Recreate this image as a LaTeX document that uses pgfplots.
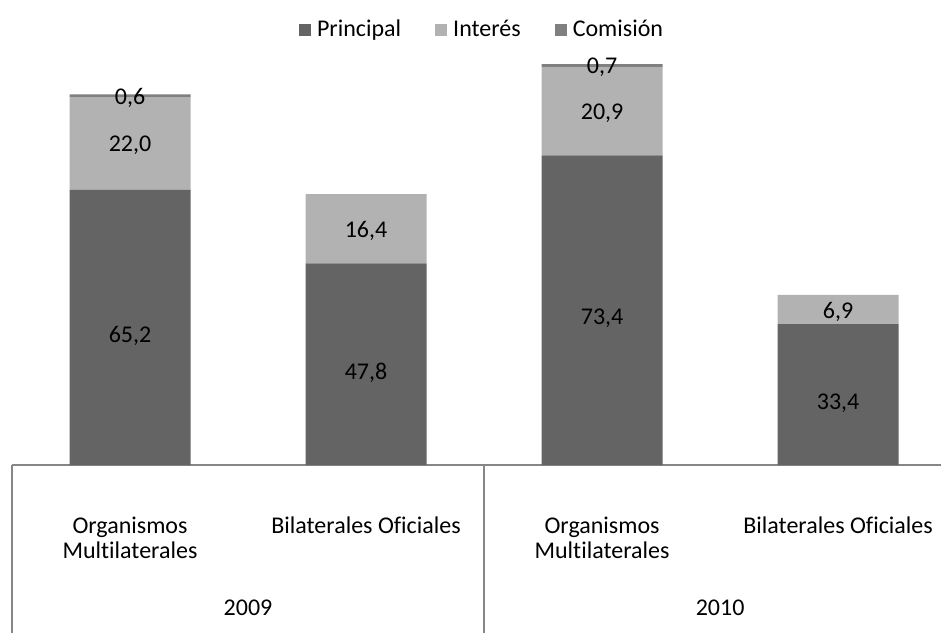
\documentclass[border=0pt]{standalone}
\usepackage{fontspec}
\setmainfont{Carlito}[Ligatures=NoCommon]
\usepackage{pgfplots}
\pgfplotsset{compat=1.18}
\usepackage{pgfplotstable}
\definecolor{cprin}{HTML}{646464}
\definecolor{cint}{HTML}{B2B2B2}
\definecolor{ccom}{HTML}{808080}
\definecolor{cline}{HTML}{868686}
\pgfplotstableread{
x prin int com
0 65.2 22.0 0.6
1 47.8 16.4 0
2 73.4 20.9 0.7
3 33.4 6.9 0
}\data
\pgfplotsset{geom/.style={at={(0,0)}, anchor=south west,
  scale only axis, width=464.5pt, height=211pt,
  xmin=-0.5, xmax=3.436, ymin=0, ymax=100,
  axis lines=none, clip=false, xtick=\empty, ytick=\empty}}
\begin{document}
\fontsize{12pt}{14pt}\selectfont
\begin{tikzpicture}
\path[use as bounding box] (-6pt,-83.5pt) rectangle (464.5pt,232.5pt);
\begin{axis}[geom,
  ybar stacked, bar width=60.5pt,
  legend columns=-1,
  legend style={at={(0.506,1.031)}, anchor=center, draw=none, fill=none,
    /tikz/every even column/.append style={column sep=16pt},
    /tikz/every odd column/.append style={column sep=2pt},
    nodes={inner xsep=1pt}},
  legend image code/.code={\path[#1] (0pt,-3pt) rectangle (6pt,3pt);},
]
\addplot[fill=cprin, draw=none] table[x=x,y=prin]{\data};
\addplot[fill=cint, draw=none] table[x=x,y=int]{\data};
\addplot[fill=ccom, draw=none] table[x=x,y=com]{\data};
\legend{Principal, Interés, Comisión}
\draw[cline, line width=0.6pt] (axis cs:-0.5,0) -- (axis cs:3.436,0);
\draw[cline, line width=0.6pt] (axis cs:-0.5,0) -- (axis cs:-0.5,-41);
\draw[cline, line width=0.6pt] (axis cs:1.5,0) -- (axis cs:1.5,-41);
\node[anchor=base, yshift=-34.25pt] at (axis cs:0,0) {Organismos};
\node[anchor=base, yshift=-46.75pt] at (axis cs:0,0) {Multilaterales};
\node[anchor=base, yshift=-34.25pt] at (axis cs:1,0) {Bilaterales Oficiales};
\node[anchor=base, yshift=-34.25pt] at (axis cs:2,0) {Organismos};
\node[anchor=base, yshift=-46.75pt] at (axis cs:2,0) {Multilaterales};
\node[anchor=base, yshift=-34.25pt] at (axis cs:3,0) {Bilaterales Oficiales};
\node[anchor=base, yshift=-75.25pt] at (axis cs:0.5,0) {2009};
\node[anchor=base, yshift=-75.25pt] at (axis cs:2.5,0) {2010};
\end{axis}
\begin{axis}[geom,
  point meta=explicit,
  nodes near coords={\pgfmathfloatifflags{\pgfplotspointmeta}{0}{}{\pgfmathprintnumber[fixed,fixed zerofill,precision=1,use comma,assume math mode=true]{\pgfplotspointmeta}}},
  every node near coord/.style={anchor=center, text=black, yshift=-1pt},
]
\addplot[draw=none, mark=none] table[x=x, y expr={(\thisrow{prin}-3.1)/2}, meta=prin]{\data};
\addplot[draw=none, mark=none] table[x=x, y expr={\thisrow{prin}+\thisrow{int}/2}, meta=int]{\data};
\addplot[draw=none, mark=none] table[x=x, y expr={\thisrow{prin}+\thisrow{int}+\thisrow{com}/2}, meta=com]{\data};
\end{axis}
\end{tikzpicture}
\end{document}
